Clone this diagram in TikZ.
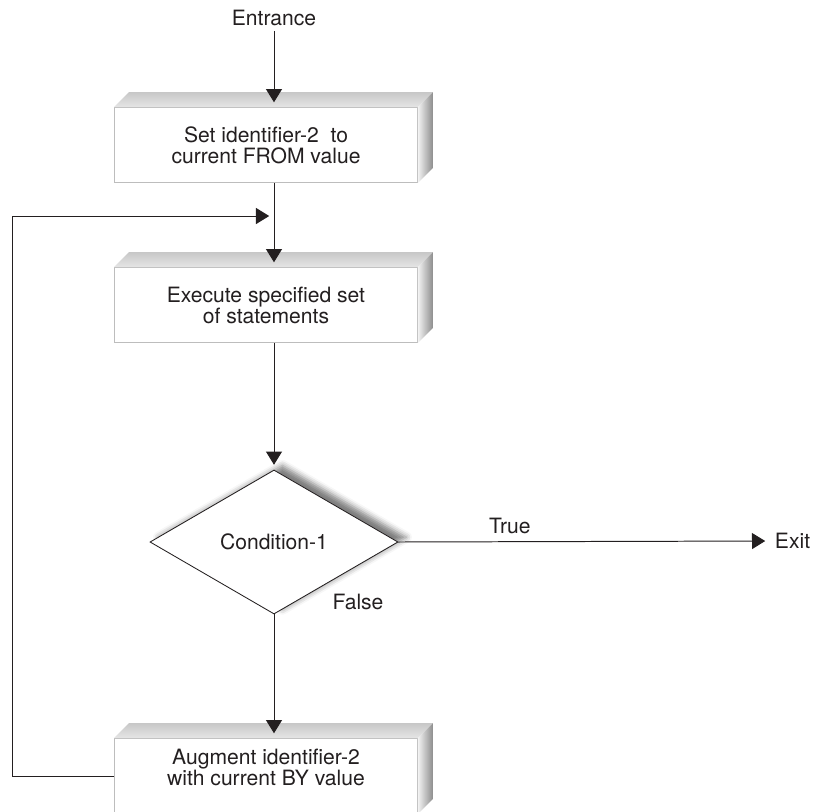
\documentclass[tikz,border=0pt]{standalone}
\usepackage{fontspec}
\setmainfont{TeX Gyre Heros}
\usetikzlibrary{arrows.meta, positioning, calc, shapes.geometric, shadows.blur}
\definecolor{ink}{HTML}{231F20}
\definecolor{rim}{HTML}{BDBDBD}

\begin{document}
\begin{tikzpicture}[
    x=0.025cm, y=-0.025cm,
    every node/.style={font=\fontsize{15}{15}\selectfont, text=ink},
    arr/.style={-{Triangle[length=0.33cm, width=0.4cm]}, line width=0.7pt, color=ink, shorten >=1.2mm},
    slab/.style={rectangle, draw=rim, fill=white, line width=0.6pt, minimum width=7.575cm,
        minimum height=1.875cm, align=center, inner sep=0pt},
    test/.style={diamond, draw=ink, fill=white, line width=0.6pt, aspect=1.72,
        minimum width=6.2cm, minimum height=3.6cm, inner sep=0pt,
        blur shadow={shadow xshift=6pt, shadow yshift=3.4pt, shadow blur radius=4pt, shadow opacity=50}},
]
\useasboundingbox (0,0) rectangle (816,811);

% ============================================================ the steps
\node (entry) at (274,18) {Entrance};
\node[slab] (set) at (266,145) {Set identifier-2\ \ to\\current FROM value};
\node[slab] (exec) at (266,305) {Execute specified set\\of statements};
\node[test] (cond) at (274,542) {Condition-1};
\node[slab, text depth=12pt] (aug) at (266,776) {Augment identifier-2\\with current BY value};
\node[anchor=west] (exit) at (770,541) {Exit};

% the raised edges of the boxes
\foreach \b in {set, exec, aug}{
    \shade[top color=black!22, middle color=black!45, bottom color=black!10]
        (\b.north west) -- ++(15,-15) -- ($(\b.north east)+(15,-15)$) -- (\b.north east) -- cycle;
    \shade[left color=black!5, right color=black!45]
        (\b.north east) -- ++(15,-15) -- ($(\b.south east)+(15,-15)$) -- (\b.south east) -- cycle;
}

% ============================================================ the flow
\draw[arr] (entry.south) -- (entry.south |- set.north);
\draw[arr] (set.south -| cond.north) -- (exec.north -| cond.north);
\draw[arr] (exec.south -| cond.north) -- (cond.north);
\draw[arr] (cond.east) -- (exit.west)
    node[pos=0.3, above=2pt] {True};
\draw[arr] (cond.south) -- (cond.south |- aug.north)
    node[pos=0, xshift=2.1cm, yshift=0.3cm] {False};

% back round to the top
\coordinate (merge) at (274,216);
\draw[arr] (aug.west) -- ++(-102,0) |- (merge);

\end{tikzpicture}
\end{document}
